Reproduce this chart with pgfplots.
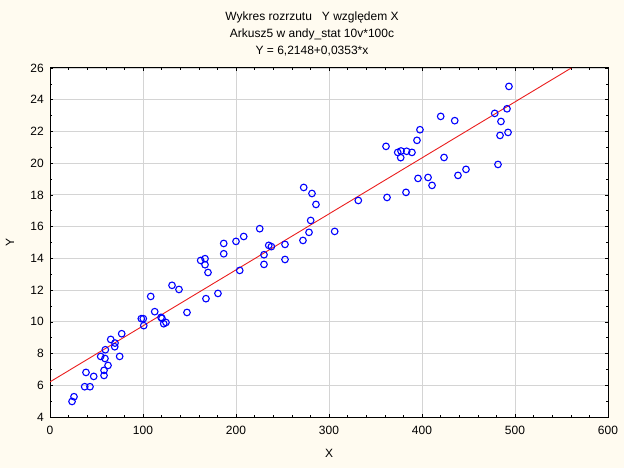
\documentclass[border=0pt]{standalone}
\usepackage{fontspec}
\setmainfont{Liberation Sans}
\usepackage{pgfplots}
\pgfplotsset{compat=1.18}
\definecolor{cream}{RGB}{255,251,240}
\definecolor{gridgray}{RGB}{212,212,212}
\definecolor{ptblue}{RGB}{0,0,255}
\definecolor{fitred}{RGB}{235,30,30}

\begin{document}
\fontsize{12bp}{15bp}\selectfont
\begin{tikzpicture}
\fill[cream] (-50bp,-51bp) rectangle (574bp,417bp);
\path[use as bounding box] (-50bp,-51bp) rectangle (574bp,417bp);
\begin{axis}[
    at={(0,0)}, anchor=south west,
    scale only axis,
    width=558bp, height=349bp,
    xmin=0, xmax=600, ymin=4, ymax=26,
    xtick distance=100, ytick distance=2,
    minor x tick num=4, minor y tick num=1,
    grid=major,
    major grid style={gridgray, line width=0.9bp},
    axis line style={line width=1bp},
    tick style={black, line width=0.6bp},
    tick align=inside,
    major tick length=3bp, minor tick length=2.5bp,
    axis background/.style={fill=white},
    /pgf/number format/assume math mode=true,
    ticklabel style={font=\fontsize{12bp}{14bp}\selectfont},
    xticklabel style={yshift=-5bp},
    yticklabel style={xshift=-2bp},
]
\addplot[fitred, line width=0.9bp] coordinates {(0,6.2148) (560.5,26)};
\addplot[only marks, mark=o, mark size=3.3bp,
         mark options={draw=ptblue, line width=1.1bp}] coordinates {
(23.7,4.98) (25.8,5.28) (37.3,5.91) (43.0,5.91) (38.7,6.81)
(47.0,6.56) (58.1,6.62) (58.1,6.94) (62.4,7.25) (54.5,7.82)
(59.1,7.69) (59.5,8.24) (65.3,8.89) (69.9,8.66) (69.6,8.43)
(74.9,7.82) (77.1,9.25) (98.2,10.20) (100.3,10.20) (100.8,9.76)
(108.3,11.60) (112.6,10.64) (119.4,10.28) (120.4,10.22) (122.3,9.88)
(124.7,9.96) (131.2,12.30) (138.7,12.04) (147.3,10.59) (167.7,11.46)
(180.6,11.79) (169.9,13.11) (166.7,13.60) (162.0,13.87) (166.7,13.98)
(186.8,14.29) (186.8,14.94) (200.0,15.07) (208.3,15.38) (204.0,13.24)
(225.5,15.87) (230.1,14.23) (230.1,13.62) (235.2,14.82) (238.0,14.74)
(252.7,14.88) (252.7,13.93) (272.0,15.13) (278.5,15.64) (280.3,16.39)
(272.8,18.47) (281.7,18.09) (286.0,17.40) (306.1,15.70) (331.5,17.65)
(362.4,17.84) (382.8,18.16) (395.7,19.04) (406.5,19.10) (410.8,18.60)
(423.7,20.36) (438.7,19.23) (447.3,19.61) (481.7,19.92) (361.3,21.06)
(373.9,20.68) (377.4,20.77) (377.1,20.35) (383.5,20.75) (389.2,20.68)
(394.6,21.44) (397.8,22.11) (420.1,22.95) (435.2,22.68) (478.2,23.14)
(491.4,23.43) (484.9,22.63) (483.9,21.75) (492.5,21.94) (493.5,24.84)
};
\end{axis}
\node[align=center, font=\fontsize{12bp}{17bp}\selectfont] at (262bp,383bp)
  {Wykres rozrzutu\ \ \ Y względem X\\Arkusz5 w andy\_stat 10v*100c\\Y = 6,2148+0,0353*x};
\node at (279bp,-36bp) {X};
\node[rotate=90] at (-40bp,174.5bp) {Y};
\end{tikzpicture}
\end{document}
